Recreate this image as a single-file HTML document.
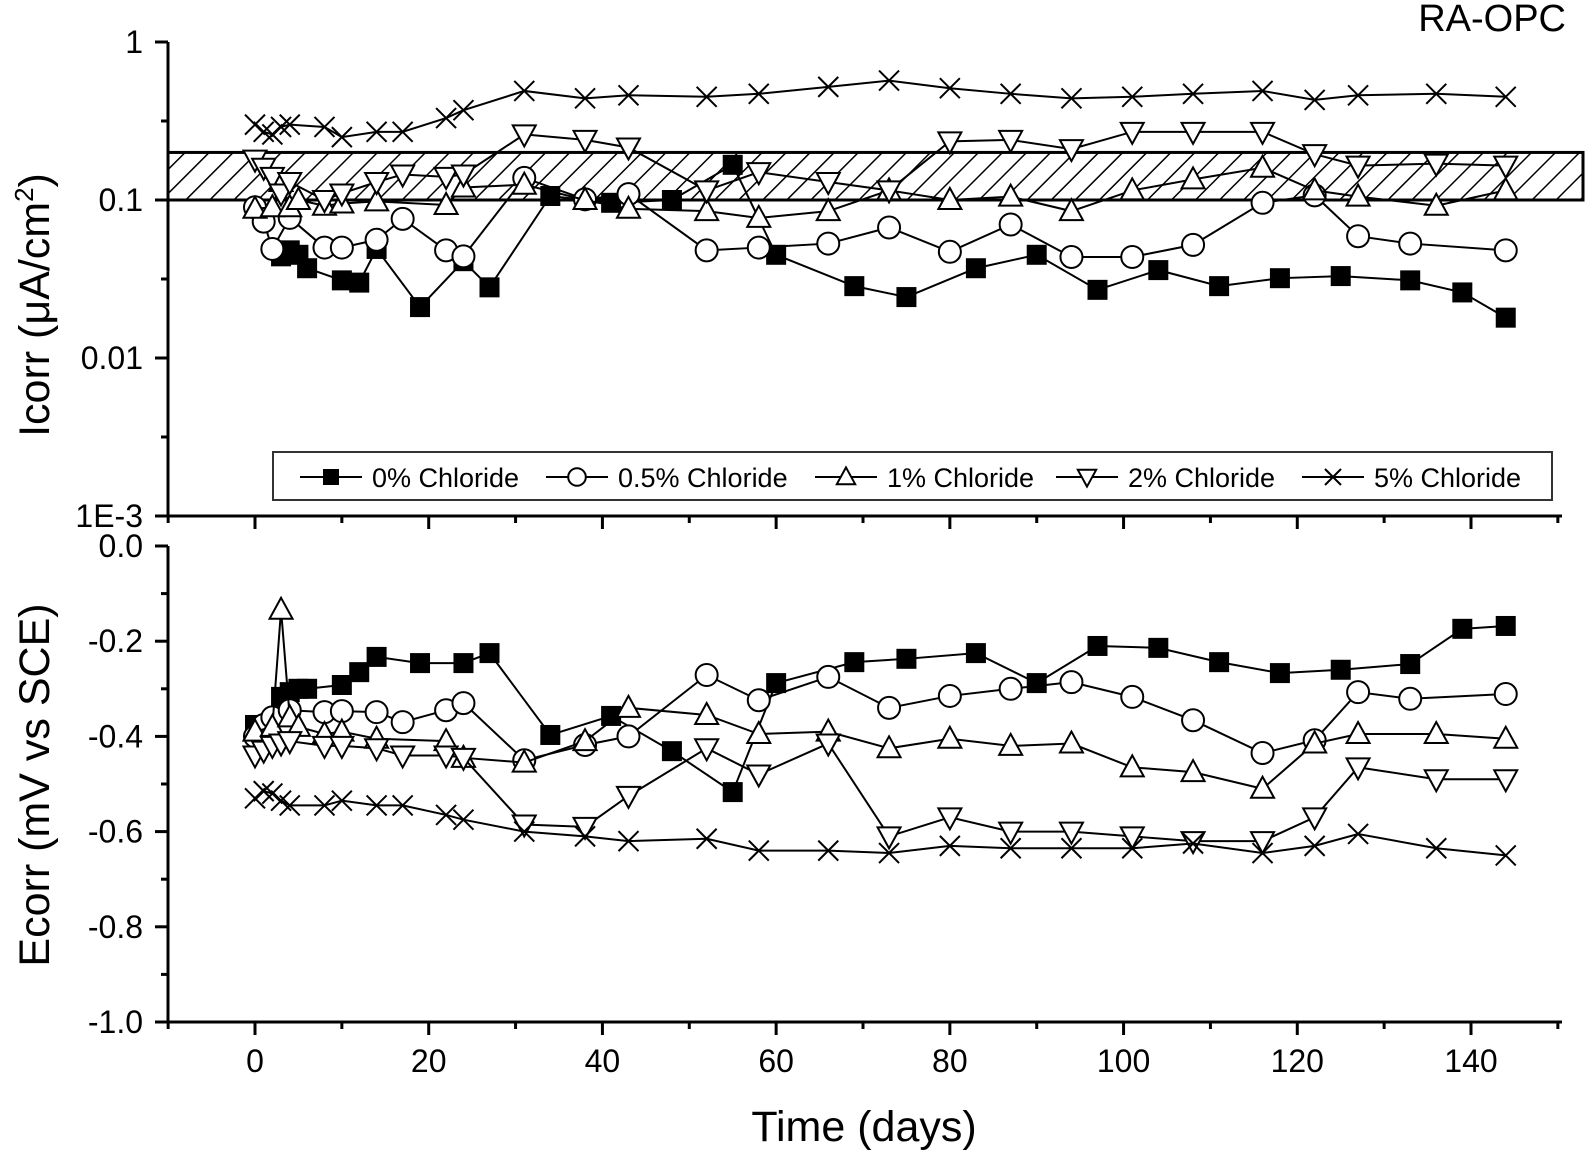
<!DOCTYPE html>
<html><head><meta charset="utf-8"><style>
html,body{margin:0;padding:0;background:#fff;}
svg{display:block;font-family:"Liberation Sans",Arial,sans-serif;}
</style></head><body>
<svg id="chart" width="1585" height="1158" viewBox="0 0 1585 1158" xmlns="http://www.w3.org/2000/svg">
<defs>
<pattern id="hatch" patternUnits="userSpaceOnUse" width="17" height="17" patternTransform="rotate(45)">
<rect width="17" height="17" fill="#fff"/>
<line x1="0" y1="0" x2="0" y2="17" stroke="#000" stroke-width="3"/>
</pattern>
</defs>
<g id="plot"></g>
</svg>
<script>
// ---------- data ----------
const seriesNames = ["0% Chloride","0.5% Chloride","1% Chloride","2% Chloride","5% Chloride"];
const xTicks = [0,20,40,60,80,100,120,140];
const icorrTicks = ["1","0.1","0.01","1E-3"];
const ecorrTicks = ["0.0","-0.2","-0.4","-0.6","-0.8","-1.0"];

const days0 = [3,4,5,6,10,12,14,19,24,27,34,41,48,55,60,69,75,83,90,97,104,111,118,125,133,139,144];
const icorr0 = [0.044,0.048,0.045,0.037,0.031,0.030,0.049,0.021,0.041,0.028,0.106,0.096,0.100,0.167,0.045,0.0285,0.0243,0.037,0.045,0.027,0.036,0.0285,0.032,0.033,0.031,0.026,0.018];
const eDays0 = [0,3,4,5,6,10,12,14,19,24,27,34,41,48,55,60,69,75,83,90,97,104,111,118,125,133,139,144];
const ecorr0 = [-0.376,-0.317,-0.307,-0.300,-0.300,-0.292,-0.265,-0.233,-0.246,-0.246,-0.225,-0.397,-0.357,-0.431,-0.517,-0.288,-0.244,-0.237,-0.225,-0.288,-0.210,-0.214,-0.244,-0.267,-0.260,-0.248,-0.174,-0.168];

const days05 = [0,1,2,4,8,10,14,17,22,24,31,38,43,52,58,66,73,80,87,94,101,108,116,122,127,133,144];
const icorr05 = [0.090,0.073,0.049,0.077,0.050,0.050,0.056,0.076,0.048,0.044,0.138,0.101,0.109,0.048,0.050,0.053,0.067,0.047,0.070,0.0436,0.0436,0.052,0.096,0.107,0.059,0.053,0.048];
const ecorr05 = [-0.40,-0.376,-0.36,-0.345,-0.349,-0.347,-0.349,-0.37,-0.345,-0.33,-0.45,-0.418,-0.40,-0.271,-0.324,-0.275,-0.34,-0.315,-0.30,-0.286,-0.317,-0.366,-0.435,-0.408,-0.307,-0.321,-0.311];

const days1 = [0,2,3,4,5,8,10,14,22,24,31,38,43,52,58,66,73,80,87,94,101,108,116,122,127,136,144];
const icorr1 = [0.088,0.090,0.13,0.090,0.10,0.092,0.095,0.098,0.093,0.12,0.125,0.10,0.088,0.085,0.077,0.085,0.115,0.10,0.105,0.085,0.115,0.135,0.16,0.115,0.105,0.092,0.115];
const ecorr1 = [-0.39,-0.38,-0.134,-0.36,-0.38,-0.395,-0.39,-0.405,-0.41,-0.445,-0.455,-0.41,-0.34,-0.355,-0.395,-0.39,-0.425,-0.405,-0.42,-0.415,-0.465,-0.475,-0.51,-0.415,-0.395,-0.395,-0.405];

const days2 = [0,1,2,3,4,8,10,14,17,22,24,31,38,43,52,58,66,73,80,87,94,101,108,116,122,127,136,144];
const icorr2 = [0.18,0.16,0.14,0.11,0.13,0.10,0.11,0.13,0.145,0.14,0.145,0.26,0.24,0.215,0.115,0.15,0.13,0.115,0.235,0.24,0.21,0.27,0.27,0.27,0.195,0.165,0.17,0.165];
const ecorr2 = [-0.44,-0.43,-0.42,-0.415,-0.41,-0.42,-0.42,-0.425,-0.44,-0.44,-0.445,-0.585,-0.59,-0.525,-0.425,-0.48,-0.415,-0.61,-0.57,-0.60,-0.60,-0.61,-0.62,-0.62,-0.57,-0.465,-0.49,-0.49];

const days5 = [0,1,2,3,4,8,10,14,17,22,24,31,38,43,52,58,66,73,80,87,94,101,108,116,122,127,136,144];
const icorr5 = [0.30,0.27,0.26,0.29,0.30,0.29,0.25,0.27,0.27,0.33,0.37,0.49,0.44,0.46,0.45,0.47,0.52,0.57,0.51,0.47,0.44,0.45,0.47,0.49,0.43,0.46,0.47,0.45];
const ecorr5 = [-0.53,-0.515,-0.52,-0.535,-0.545,-0.545,-0.535,-0.545,-0.545,-0.565,-0.575,-0.60,-0.61,-0.62,-0.615,-0.64,-0.64,-0.645,-0.63,-0.635,-0.635,-0.635,-0.625,-0.645,-0.63,-0.605,-0.635,-0.65];

const bandLow = 0.1, bandHigh = 0.2;

// ---------- scales ----------
const X0 = 168, X1 = 1562;
function xs(d){ return 255 + d * (1471 - 255) / 140; }
function yTop(v){ return 42 + (-Math.log10(v)) * 158; }
function yBot(v){ return 546 + (-v) * 476; }

const NS = "http://www.w3.org/2000/svg";
const root = document.getElementById('plot');
function mk(tag, attrs, parent){
  const e = document.createElementNS(NS, tag);
  for (const k in attrs) e.setAttribute(k, attrs[k]);
  (parent || root).appendChild(e);
  return e;
}

// hatched band
const band = mk('rect', {x: X0, y: yTop(bandHigh), width: 1583 - X0, height: yTop(bandLow) - yTop(bandHigh), fill: 'url(#hatch)', stroke: '#000', 'stroke-width': 3});



// axes
function axes(top, bottom, panel){
  const g = mk('g', {});
  
  
  mk('line', {x1: X0, y1: top, x2: X0, y2: bottom, stroke: '#000', 'stroke-width': 3}, g);
  mk('line', {x1: X0, y1: bottom, x2: X1, y2: bottom, stroke: '#000', 'stroke-width': 3}, g);
  for (let d = -10; d <= 150; d += 10) {
    const x = xs(d);
    if (x < X0 - 1 || x > X1 + 1) continue;
    const major = (d % 20 === 0);
    mk('line', {x1: x, y1: bottom, x2: x, y2: bottom + (major ? 13 : 7), stroke: '#000', 'stroke-width': 3}, g);
  }
  return g;
}
axes(42, 516, 'icorr');
axes(546, 1022, 'ecorr');

const TF = 32;
// top y ticks
icorrTicks.forEach((t, i) => {
  const y = yTop(Math.pow(10, -i));
  mk('line', {x1: X0 - 13, y1: y, x2: X0, y2: y, stroke: '#000', 'stroke-width': 3});
  if (i < 3) mk('line', {x1: X0 - 7, y1: yTop(Math.pow(10, -i - 0.5)), x2: X0, y2: yTop(Math.pow(10, -i - 0.5)), stroke: '#000', 'stroke-width': 3});
  const tx = mk('text', {x: 143, y: y + 11, 'text-anchor': 'end', 'font-size': TF});
  tx.textContent = t;
  
  
});
// bottom y ticks
ecorrTicks.forEach((t) => {
  const v = parseFloat(t);
  const y = yBot(v);
  mk('line', {x1: X0 - 13, y1: y, x2: X0, y2: y, stroke: '#000', 'stroke-width': 3});
  if (v > -1) mk('line', {x1: X0 - 7, y1: yBot(v - 0.1), x2: X0, y2: yBot(v - 0.1), stroke: '#000', 'stroke-width': 3});
  const tx = mk('text', {x: 143, y: y + 11, 'text-anchor': 'end', 'font-size': TF});
  tx.textContent = t;
  
  
});
// x tick labels
xTicks.forEach((d) => {
  const tx = mk('text', {x: xs(d), y: 1072, 'text-anchor': 'middle', 'font-size': TF});
  tx.textContent = String(d);
  
  
});

// titles
let t;
t = mk('text', {x: 864, y: 1141, 'text-anchor': 'middle', 'font-size': 43});
t.textContent = 'Time (days)';



t = mk('text', {x: 0, y: 0, 'text-anchor': 'middle', 'font-size': 43, transform: 'translate(49,305) rotate(-90)'});
t.innerHTML = 'Icorr (μA/cm<tspan dy="-16" font-size="26">2</tspan><tspan dy="16">)</tspan>';



t = mk('text', {x: 0, y: 0, 'text-anchor': 'middle', 'font-size': 43, transform: 'translate(49,785) rotate(-90)'});
t.textContent = 'Ecorr (mV vs SCE)';



t = mk('text', {x: 1566, y: 31, 'text-anchor': 'end', 'font-size': 38});
t.textContent = 'RA-OPC';



// markers
function marker(type, x, y, s, parent){
  const st = {stroke: '#000', 'stroke-width': 2};
  if (type === 0) return mk('rect', {x: x - s, y: y - s, width: 2 * s, height: 2 * s, fill: '#000'}, parent);
  if (type === 1) return mk('circle', Object.assign({cx: x, cy: y, r: s * 1.1, fill: '#fff'}, st), parent);
  if (type === 2) return mk('polygon', Object.assign({points: `${x},${y - s * 1.2} ${x - s * 1.15},${y + s * 0.9} ${x + s * 1.15},${y + s * 0.9}`, fill: '#fff'}, st), parent);
  if (type === 3) return mk('polygon', Object.assign({points: `${x},${y + s * 1.2} ${x - s * 1.15},${y - s * 0.9} ${x + s * 1.15},${y - s * 0.9}`, fill: '#fff'}, st), parent);
  const g = mk('g', {}, parent);
  mk('line', Object.assign({x1: x - s, y1: y - s, x2: x + s, y2: y + s}, st), g);
  mk('line', Object.assign({x1: x - s, y1: y + s, x2: x + s, y2: y - s}, st), g);
  return g;
}

const topSeries = [[days0, icorr0], [days05, icorr05], [days1, icorr1], [days2, icorr2], [days5, icorr5]];
const botSeries = [[eDays0, ecorr0], [days05, ecorr05], [days1, ecorr1], [days2, ecorr2], [days5, ecorr5]];

function drawSeries(list, yf, panel){
  list.forEach((s, i) => {
    const g = mk('g', {});
    
    
    const pts = s[0].map((d, j) => xs(d) + ',' + yf(s[1][j])).join(' ');
    mk('polyline', {points: pts, fill: 'none', stroke: '#000', 'stroke-width': 2}, g);
    s[0].forEach((d, j) => {
      const m = marker(i, xs(d), yf(s[1][j]), 10, g);
      
      
    });
  });
}
drawSeries(topSeries, yTop, 'icorr');
drawSeries(botSeries, yBot, 'ecorr');

// legend
const lg = mk('g', {});


mk('rect', {x: 273, y: 452, width: 1279, height: 48, fill: '#fff', stroke: '#333', 'stroke-width': 2}, lg);
const legX = [300, 546, 815, 1056, 1302];
seriesNames.forEach((n, i) => {
  const e = mk('g', {}, lg);
  
  
  const x = legX[i];
  mk('line', {x1: x, y1: 477, x2: x + 62, y2: 477, stroke: '#000', 'stroke-width': 2}, e);
  marker(i, x + 31, 477, 8, e);
  const tx = mk('text', {x: x + 72, y: 487, 'font-size': 27}, e);
  tx.textContent = n;
});
</script>
</body></html>
